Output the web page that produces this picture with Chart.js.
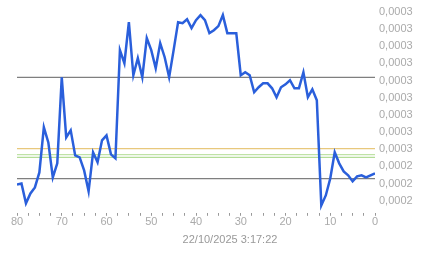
<!DOCTYPE html>
<html>
<head>
<meta charset="utf-8">
<script src="https://cdn.jsdelivr.net/npm/chart.js@4/dist/chart.umd.min.js"></script>
<style>
  html, body { margin: 0; padding: 0; background: #fff; }
  #wrap { width: 443px; height: 258px; }
</style>
</head>
<body>
<div id="wrap"><canvas id="priceChart" width="443" height="258"></canvas></div>
<script>
// minutes ago (x axis runs 80 -> 0)
const minutes = [80, 79, 78, 77, 76, 75, 74, 73, 72, 71, 70, 69, 68, 67, 66, 65, 64, 63, 62, 61,
                 60, 59, 58, 57, 56, 55, 54, 53, 52, 51, 50, 49, 48, 47, 46, 45, 44, 43, 42, 41,
                 40, 39, 38, 37, 36, 35, 34, 33, 32, 31, 30, 29, 28, 27, 26, 25, 24, 23, 22, 21,
                 20, 19, 18, 17, 16, 15, 14, 13, 12, 11, 10, 9, 8, 7, 6, 5, 4, 3, 2, 1, 0];

const prices = [0.0002295, 0.0002301, 0.0002185, 0.0002243, 0.0002278, 0.0002365, 0.0002628, 0.0002540, 0.0002336, 0.0002418,
                0.0002919, 0.0002569, 0.0002610, 0.0002464, 0.0002453, 0.0002377, 0.0002255, 0.0002482, 0.0002424, 0.0002552,
                0.0002581, 0.0002470, 0.0002447, 0.0003077, 0.0003001, 0.0003240, 0.0002931, 0.0003030, 0.0002919, 0.0003147,
                0.0003077, 0.0002972, 0.0003118, 0.0003036, 0.0002919, 0.0003077, 0.0003240, 0.0003234, 0.0003257, 0.0003205,
                0.0003252, 0.0003281, 0.0003252, 0.0003176, 0.0003193, 0.0003217, 0.0003281, 0.0003176, 0.0003176, 0.0003176,
                0.0002931, 0.0002948, 0.0002931, 0.0002832, 0.0002861, 0.0002884, 0.0002884, 0.0002855, 0.0002803, 0.0002861,
                0.0002878, 0.0002902, 0.0002855, 0.0002855, 0.0002948, 0.0002803, 0.0002849, 0.0002785, 0.0002173, 0.0002231,
                0.0002330, 0.0002482, 0.0002418, 0.0002371, 0.0002348, 0.0002313, 0.0002342, 0.0002348, 0.0002336, 0.0002348,
                0.0002360];

// horizontal reference levels
const levelValues = [0.0002918, 0.0002504, 0.0002469, 0.0002453, 0.0002329];
const levelColors = ['#7f7f7f', '#e8c87c', '#bfe2a6', '#b3dc98', '#7f7f7f'];

const yTicks = [0.00022, 0.00023, 0.00024, 0.00025, 0.00026, 0.00027, 0.00028, 0.00029, 0.00030, 0.00031, 0.00032, 0.00033];
const yTickLabels = ['0,0002', '0,0002', '0,0002', '0,0003', '0,0003', '0,0003', '0,0003', '0,0003', '0,0003', '0,0003', '0,0003', '0,0003'];

const chartTitle = '22/10/2025 3:17:22';

const datasets = [{
    data: minutes.map((m, i) => ({ x: m, y: prices[i] })),
    borderColor: '#2a5fdb',
    borderWidth: 2.5,
    pointRadius: 0,
    tension: 0
}];
levelValues.forEach((v, i) => {
    datasets.push({
        data: [{ x: minutes[0], y: v }, { x: minutes[minutes.length - 1], y: v }],
        borderColor: levelColors[i],
        borderWidth: 1.3,
        pointRadius: 0
    });
});

const ctx = document.getElementById('priceChart').getContext('2d');
new Chart(ctx, {
    type: 'line',
    data: { datasets: datasets },
    options: {
        responsive: false,
        animation: false,
        layout: { padding: { left: 17, right: 0, top: 5, bottom: 0 } },
        plugins: {
            legend: { display: false },
            tooltip: { enabled: false },
            title: {
                display: true,
                position: 'bottom',
                text: chartTitle,
                color: '#999',
                font: { family: 'Liberation Sans, Arial', size: 11, weight: 'normal' },
                padding: { top: 3, bottom: 11 }
            }
        },
        scales: {
            x: {
                type: 'linear',
                reverse: true,
                min: 0,
                max: 80,
                border: { display: false },
                grid: { drawOnChartArea: false, tickLength: 3, color: '#999' },
                afterFit: (scale) => { scale.height = 18; },
                ticks: {
                    stepSize: 2.5,
                    autoSkip: false,
                    maxRotation: 0,
                    padding: 0,
                    color: '#aaa',
                    font: { family: 'Liberation Sans, Arial', size: 11 },
                    callback: (value) => (value % 10 === 0 ? String(value) : '')
                }
            },
            y: {
                position: 'right',
                min: 0.000213,
                max: 0.000334,
                border: { display: false },
                grid: { display: false, drawTicks: false },
                afterFit: (scale) => {
                    scale.width = 68;
                    scale.paddingTop = 0;
                    scale.paddingBottom = 0;
                },
                afterBuildTicks: (scale) => { scale.ticks = yTicks.map(v => ({ value: v })); },
                ticks: {
                    padding: 4,
                    color: '#aaa',
                    font: { family: 'Liberation Sans, Arial', size: 11 },
                    callback: (value, index) => yTickLabels[index]
                }
            }
        }
    }
});
</script>
</body>
</html>
